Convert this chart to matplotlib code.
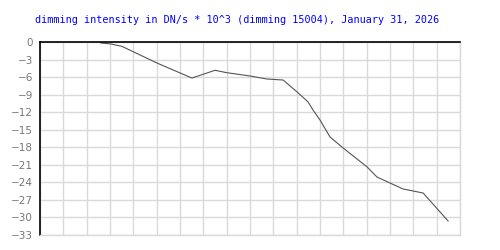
import matplotlib
matplotlib.use("Agg")
import matplotlib.pyplot as plt
import numpy as np

# time position (in grid steps) and dimming intensity (DN/s * 10^3)
t = [2.61, 3.04, 3.51, 5.01, 6.51, 7.50, 8.01, 9.00, 9.73, 10.42, 11.02,
     11.49, 11.70, 12.00, 12.43, 12.99, 14.02, 14.44, 15.00, 15.56, 16.42, 17.49]
dimming = [-0.17, -0.34, -0.74, -3.59, -6.16, -4.84, -5.25, -5.81, -6.33, -6.50, -8.55,
           -10.26, -11.63, -13.34, -16.24, -18.12, -21.37, -23.08, -24.11, -25.13, -25.82, -30.60]
y_ticks = list(range(0, -34, -3))
title = "dimming intensity in DN/s * 10^3 (dimming 15004), January 31, 2026"

grid_col = "#d9d9d9"

fig = plt.figure(figsize=(5, 2.5), dpi=100)
ax = fig.add_axes([0.08, 0.06, 0.84, 0.772])

ax.plot(t, dimming, color="#555555", lw=0.8)

ax.set_xlim(0, 18)
ax.set_ylim(-33, 0)
ax.set_xticks(np.arange(0, 19, 1))
ax.set_yticks(y_ticks)
ax.set_yticklabels([str(v).replace("-", "\u2212") for v in y_ticks])
ax.tick_params(axis="x", length=0, labelbottom=False)
ax.tick_params(axis="y", length=0, pad=5, labelsize=7.5, labelcolor="#777777")
ax.grid(True, color=grid_col, lw=1)
ax.set_axisbelow(True)

for side in ["left", "top"]:
    ax.spines[side].set_color("black")
    ax.spines[side].set_linewidth(1.2)
for side in ["right", "bottom"]:
    ax.spines[side].set_color(grid_col)
    ax.spines[side].set_linewidth(1)

fig.text(0.475, 0.92, title, ha="center", va="center", color="blue",
         family="DejaVu Sans Mono", fontsize=7.3)

fig.savefig("out.png", dpi=100, facecolor="white")
